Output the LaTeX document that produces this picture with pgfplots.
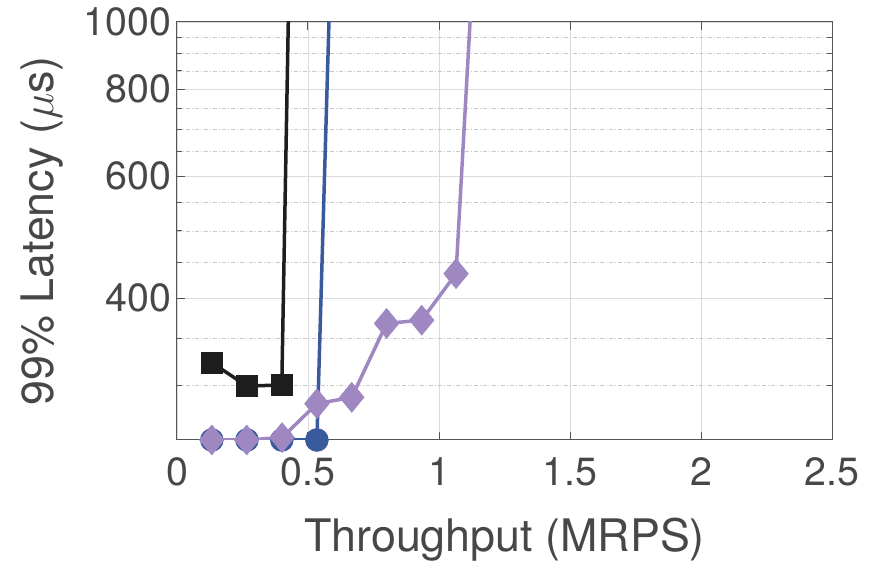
\RequirePackage{fix-cm}
\documentclass[border=0pt]{standalone}
\usepackage{fontspec}
\setmainfont{TeX Gyre Heros}
\usepackage{pgfplots}
\pgfplotsset{compat=1.18}
\definecolor{txt}{HTML}{474747}
\definecolor{framec}{HTML}{555555}
\definecolor{sblack}{HTML}{1E1E1E}
\definecolor{sblue}{HTML}{3A5A9E}
\definecolor{spurple}{HTML}{9F88C2}
\begin{document}
\begin{tikzpicture}
\useasboundingbox (-177bp,-124bp) rectangle (694bp,440bp);
\begin{axis}[
  at={(0,0)}, anchor=south west,
  scale only axis, width=655bp, height=418bp,
  xmin=0, xmax=2.5, ymode=log, ymin=250, ymax=1000,
  xtick={0,0.5,1,1.5,2,2.5},
  xticklabels={0,0.5,1,1.5,2,2.5},
  ytick={400,600,800,1000},
  yticklabels={400,600,800,1000},
  minor ytick={300,350,450,500,550,650,700,750,850,900,950},
  grid=both,
  major grid style={draw=black!14, line width=0.8bp},
  minor grid style={draw=black!22, line width=0.8bp, dash pattern=on 4bp off 2bp on 1bp off 2bp},
  tick align=inside, tick pos=both,
  major tick length=8bp, minor tick length=5bp,
  axis line style={framec, line width=1bp},
  every tick/.style={framec, line width=1bp},
  tick label style={font=\fontsize{39.5}{44}\selectfont, text=txt},
  xticklabel style={yshift=-14bp},
  yticklabel style={xshift=-2bp},
  label style={font=\fontsize{45}{50}\selectfont, text=txt},
  xlabel={Throughput (MRPS)}, ylabel={99\% Latency ($\mu$s)},
  xlabel style={at={(axis description cs:0.5,0)}, anchor=base, yshift=-112bp},
  ylabel style={at={(axis description cs:-0.1893,0.5)}, anchor=base, rotate=0},
  /pgf/number format/assume math mode=true,
]
\addplot[sblack, line width=3.5bp, mark=square*, mark size=10.5bp, mark indices={1,2,3},
  mark options={solid, fill=sblack, line width=0.5bp}]
  coordinates {(0.133,323) (0.267,299) (0.400,300) (0.439,2000)};
\addplot[sblue, line width=3.5bp, mark=*, mark size=11.5bp, mark indices={1,2,3,4},
  mark options={solid, fill=sblue, line width=0.5bp}]
  coordinates {(0.133,250) (0.267,250) (0.400,250) (0.534,250) (0.603,2000)};
\addplot[spurple, line width=3.5bp, mark=diamond*, mark size=15bp, mark indices={1,2,3,4,5,6,7,8},
  mark options={solid, fill=spurple, line width=0.5bp, xscale=1.1}]
  coordinates {(0.133,250) (0.266,250) (0.401,252) (0.534,282) (0.667,288) (0.800,368) (0.934,372) (1.065,434) (1.163,2000)};
\end{axis}
\end{tikzpicture}
\end{document}
